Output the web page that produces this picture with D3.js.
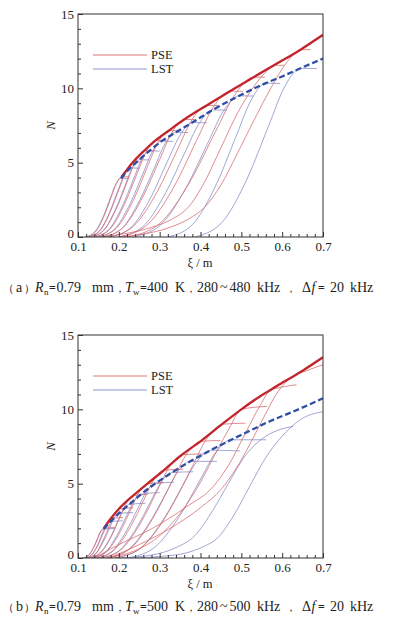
<!DOCTYPE html>
<html>
<head>
<meta charset="utf-8">
<script src="https://cdn.jsdelivr.net/npm/d3@7"></script>
<style>
body { margin: 0; background: #fff; }
svg text { font-family: "Liberation Serif", "Times New Roman", Times, serif; fill: #222; }
</style>
</head>
<body>
<svg id="chart" width="399" height="628"></svg>
<script>
// axis ticks
const xTicks = [0.1, 0.2, 0.3, 0.4, 0.5, 0.6, 0.7];
const xMinorTicks = [0.12, 0.14, 0.16, 0.18, 0.22, 0.24, 0.26, 0.28, 0.32, 0.34, 0.36, 0.38,
    0.42, 0.44, 0.46, 0.48, 0.52, 0.54, 0.56, 0.58, 0.62, 0.64, 0.66, 0.68];
const yTicks = [0, 5, 10, 15];
const yMinorTicks = [1, 2, 3, 4, 6, 7, 8, 9, 11, 12, 13, 14];

// (a) Tw = 400 K, 480 -> 280 kHz
const freqsA = [480, 460, 440, 420, 400, 380, 360, 340, 320, 300, 280];
const pseA = [
    [[0.12,0],[0.142,0.32],[0.164,1.42],[0.181,2.67],[0.194,3.6],[0.207,4.05],[0.225,4.05]],
    [[0.125,0],[0.153,0.4],[0.18,1.77],[0.202,3.33],[0.219,4.49],[0.235,5.05],[0.255,5.05]],
    [[0.13,0],[0.163,0.46],[0.196,2.03],[0.222,3.83],[0.242,5.16],[0.262,5.8],[0.285,5.8]],
    [[0.14,0],[0.178,0.52],[0.215,2.28],[0.245,4.29],[0.268,5.79],[0.29,6.5],[0.315,6.5]],
    [[0.15,0],[0.193,0.57],[0.236,2.5],[0.27,4.72],[0.296,6.36],[0.322,7.15],[0.348,7.15]],
    [[0.16,0],[0.21,0.63],[0.26,2.77],[0.3,5.21],[0.33,7.03],[0.36,7.9],[0.386,7.9]],
    [[0.175,0],[0.235,0.71],[0.295,3.1],[0.343,5.84],[0.379,7.88],[0.415,8.85],[0.443,8.85]],
    [[0.2,0],[0.268,0.78],[0.336,3.43],[0.39,6.47],[0.431,8.72],[0.472,9.8],[0.504,9.8]],
    [[0.22,0],[0.298,0.86],[0.375,3.76],[0.437,7.1],[0.484,9.57],[0.53,10.75],[0.558,10.75]],
    [[0.16,0],[0.22,0.25],[0.28,0.65],[0.33,1.2],[0.37,2.0],[0.41,3.7],[0.45,6.0],[0.49,8.3],[0.53,10.1],[0.56,11.1],[0.58,11.55],[0.605,11.55]],
    [[0.2,0],[0.26,0.2],[0.32,0.6],[0.37,1.2],[0.41,2.0],[0.45,3.5],[0.49,5.6],[0.53,7.8],[0.57,9.9],[0.6,11.3],[0.625,12.2],[0.645,12.6],[0.67,12.6]]
];
const lstA = [
    [[0.118,0],[0.14,0.32],[0.162,1.38],[0.179,2.61],[0.192,3.52],[0.205,3.95],[0.225,3.93]],
    [[0.125,0],[0.151,0.37],[0.177,1.63],[0.197,3.07],[0.213,4.14],[0.228,4.65],[0.25,4.63]],
    [[0.132,0],[0.162,0.42],[0.191,1.82],[0.215,3.43],[0.232,4.63],[0.25,5.2],[0.275,5.18]],
    [[0.14,0],[0.174,0.46],[0.208,2.03],[0.235,3.83],[0.255,5.16],[0.275,5.8],[0.3,5.78]],
    [[0.15,0],[0.189,0.52],[0.228,2.26],[0.259,4.26],[0.282,5.74],[0.305,6.45],[0.333,6.43]],
    [[0.162,0],[0.207,0.56],[0.251,2.47],[0.287,4.65],[0.313,6.27],[0.34,7.05],[0.37,7.03]],
    [[0.178,0],[0.229,0.62],[0.279,2.7],[0.319,5.08],[0.35,6.85],[0.38,7.7],[0.415,7.68]],
    [[0.2,0],[0.258,0.68],[0.315,2.99],[0.361,5.64],[0.396,7.61],[0.43,8.55],[0.465,8.53]],
    [[0.235,0],[0.3,0.76],[0.365,3.33],[0.417,6.27],[0.456,8.46],[0.495,9.5],[0.53,9.48]],
    [[0.32,0],[0.38,0.83],[0.44,3.62],[0.488,6.83],[0.524,9.21],[0.56,10.35],[0.595,10.33]],
    [[0.385,0],[0.45,0.91],[0.515,3.97],[0.567,7.49],[0.606,10.1],[0.645,11.35],[0.685,11.33]]
];
const pseEnvA = [[0.207,4.05],[0.235,5.05],[0.262,5.8],[0.29,6.5],[0.322,7.15],[0.36,7.9],[0.415,8.85],
    [0.472,9.8],[0.53,10.75],[0.58,11.55],[0.645,12.6],[0.7,13.6]];
const lstEnvA = [[0.205,3.95],[0.228,4.65],[0.25,5.2],[0.275,5.8],[0.305,6.45],[0.34,7.05],[0.38,7.7],
    [0.43,8.55],[0.495,9.5],[0.56,10.35],[0.6,10.8],[0.645,11.35],[0.7,12.0]];

// (b) Tw = 500 K, 500 -> 280 kHz
const freqsB = [500, 480, 460, 440, 420, 400, 380, 360, 340, 320, 300, 280];
const pseB = [
    [[0.112,0],[0.125,0.16],[0.138,0.7],[0.148,1.32],[0.155,1.78],[0.163,2.0],[0.19,2.05]],
    [[0.117,0],[0.133,0.21],[0.149,0.93],[0.161,1.75],[0.171,2.36],[0.18,2.65],[0.21,2.72]],
    [[0.122,0],[0.142,0.26],[0.161,1.16],[0.177,2.18],[0.188,2.94],[0.2,3.3],[0.235,3.38]],
    [[0.128,0],[0.155,0.34],[0.182,1.47],[0.203,2.77],[0.219,3.74],[0.235,4.2],[0.27,4.28]],
    [[0.135,0],[0.169,0.4],[0.203,1.75],[0.23,3.3],[0.25,4.45],[0.27,5.0],[0.31,5.08]],
    [[0.145,0],[0.186,0.47],[0.228,2.07],[0.261,3.89],[0.285,5.25],[0.31,5.9],[0.358,5.98]],
    [[0.155,0],[0.205,0.56],[0.255,2.43],[0.295,4.59],[0.325,6.19],[0.355,6.95],[0.407,7.0]],
    [[0.17,0],[0.228,0.63],[0.285,2.75],[0.331,5.18],[0.366,6.99],[0.4,7.85],[0.448,7.9]],
    [[0.19,0],[0.256,0.72],[0.323,3.15],[0.376,5.94],[0.415,8.01],[0.455,9.0],[0.51,9.07]],
    [[0.17,0],[0.24,0.5],[0.3,1.5],[0.35,3.0],[0.4,5.1],[0.44,7.2],[0.47,8.7],[0.5,10.0],[0.563,10.2]],
    [[0.14,0],[0.2,0.9],[0.276,1.9],[0.366,3.45],[0.431,4.8],[0.47,6.3],[0.51,8.4],[0.545,10.2],[0.57,11.25],[0.6,11.5],[0.635,11.65]],
    [[0.175,0],[0.25,0.9],[0.32,1.9],[0.403,3.45],[0.45,4.6],[0.5,6.6],[0.55,9.2],[0.59,11.2],[0.62,12.1],[0.66,12.6],[0.7,13.0]]
];
const lstB = [
    [[0.112,0],[0.125,0.16],[0.138,0.68],[0.148,1.29],[0.155,1.74],[0.163,1.95],[0.19,1.98]],
    [[0.117,0],[0.133,0.2],[0.149,0.86],[0.161,1.62],[0.171,2.18],[0.18,2.45],[0.21,2.5]],
    [[0.122,0],[0.142,0.24],[0.161,1.05],[0.177,1.98],[0.188,2.67],[0.2,3.0],[0.235,3.06]],
    [[0.128,0],[0.152,0.29],[0.177,1.26],[0.196,2.38],[0.21,3.2],[0.225,3.6],[0.265,3.68]],
    [[0.135,0],[0.165,0.34],[0.195,1.51],[0.219,2.84],[0.237,3.83],[0.255,4.3],[0.3,4.4]],
    [[0.145,0],[0.181,0.4],[0.217,1.75],[0.246,3.3],[0.267,4.45],[0.289,5.0],[0.335,5.1]],
    [[0.155,0],[0.199,0.46],[0.243,2.01],[0.278,3.8],[0.304,5.12],[0.33,5.75],[0.382,5.8]],
    [[0.17,0],[0.221,0.52],[0.273,2.28],[0.314,4.29],[0.344,5.79],[0.375,6.5],[0.44,6.5]],
    [[0.19,0],[0.249,0.58],[0.308,2.54],[0.355,4.79],[0.39,6.45],[0.425,7.25],[0.497,7.2]],
    [[0.22,0],[0.284,0.64],[0.348,2.78],[0.399,5.25],[0.437,7.08],[0.475,7.95],[0.561,7.95]],
    [[0.2,0],[0.28,0.2],[0.34,0.7],[0.386,1.5],[0.43,3.2],[0.468,5.0],[0.51,6.9],[0.55,8.0],[0.59,8.6],[0.627,8.85]],
    [[0.236,0],[0.3,0.1],[0.366,0.35],[0.41,0.8],[0.44,1.3],[0.48,2.8],[0.52,4.8],[0.561,6.8],[0.6,8.2],[0.644,9.3],[0.7,9.85]]
];
const pseEnvB = [[0.163,2.0],[0.18,2.65],[0.2,3.3],[0.235,4.2],[0.27,5.0],[0.31,5.9],[0.355,6.95],[0.4,7.85],
    [0.455,9.05],[0.5,10.0],[0.55,10.95],[0.586,11.55],[0.65,12.6],[0.7,13.5]];
const lstEnvB = [[0.163,1.95],[0.18,2.45],[0.2,3.0],[0.225,3.6],[0.255,4.3],[0.289,5.0],[0.33,5.75],[0.375,6.5],
    [0.425,7.25],[0.475,7.95],[0.52,8.55],[0.57,9.2],[0.627,9.85],[0.7,10.74]];

const svg = d3.select('#chart');
const left = 78, right = 323;
const x = d3.scaleLinear().domain([0.1, 0.7]).range([left, right]);

const RED_THIN = '#d6666a', BLUE_THIN = '#8288c6', RED_ENV = '#c3252c', BLUE_ENV = '#2f4ea6';

function drawPanel(cfg) {
    const y = d3.scaleLinear().domain([0, 15]).range([cfg.bottom, cfg.top]);
    const g = svg.append('g');

    g.append('clipPath').attr('id', cfg.id + '-clip')
        .append('rect')
        .attr('x', left).attr('y', cfg.top)
        .attr('width', right - left).attr('height', cfg.bottom - cfg.top);

    const line = d3.line()
        .x(d => x(d[0]))
        .y(d => y(d[1]))
        .curve(d3.curveMonotoneX);

    const plot = g.append('g').attr('clip-path', `url(#${cfg.id}-clip)`);

    plot.selectAll('.lst')
        .data(cfg.lst)
        .enter().append('path')
        .attr('class', 'lst')
        .attr('d', line)
        .attr('fill', 'none')
        .attr('stroke', BLUE_THIN)
        .attr('stroke-width', 0.75);

    plot.selectAll('.pse')
        .data(cfg.pse)
        .enter().append('path')
        .attr('class', 'pse')
        .attr('d', line)
        .attr('fill', 'none')
        .attr('stroke', RED_THIN)
        .attr('stroke-width', 0.75);

    plot.append('path')
        .attr('d', line(cfg.pseEnv))
        .attr('fill', 'none')
        .attr('stroke', RED_ENV)
        .attr('stroke-width', 2.3);

    plot.append('path')
        .attr('d', line(cfg.lstEnv))
        .attr('fill', 'none')
        .attr('stroke', BLUE_ENV)
        .attr('stroke-width', 2.3)
        .attr('stroke-dasharray', '6,3');

    // axes, ticks pointing inward
    const fmt = d3.format('.1f');
    g.append('g')
        .attr('transform', `translate(0,${cfg.bottom})`)
        .call(d3.axisBottom(x).tickValues(xMinorTicks).tickSize(-3).tickFormat(''))
        .call(a => a.select('.domain').remove());
    g.append('g')
        .attr('transform', `translate(0,${cfg.bottom})`)
        .call(d3.axisBottom(x).tickValues(xTicks).tickSize(-5).tickPadding(5).tickFormat(fmt))
        .call(a => a.select('.domain').remove())
        .attr('font-family', null).attr('font-size', 13).attr('color', '#333');

    g.append('g')
        .attr('transform', `translate(${left},0)`)
        .call(d3.axisLeft(y).tickValues(yMinorTicks).tickSize(-3).tickFormat(''))
        .call(a => a.select('.domain').remove());
    g.append('g')
        .attr('transform', `translate(${left},0)`)
        .call(d3.axisLeft(y).tickValues(yTicks).tickSize(-5).tickPadding(4))
        .call(a => a.select('.domain').remove())
        .call(a => a.selectAll('.tick text').filter(d => d === 0).attr('dy', '0em'))
        .attr('font-family', null).attr('font-size', 13).attr('color', '#333');

    g.selectAll('.tick line').attr('stroke', '#333');

    g.append('rect')
        .attr('x', left).attr('y', cfg.top)
        .attr('width', right - left).attr('height', cfg.bottom - cfg.top)
        .attr('fill', 'none')
        .attr('stroke', '#333')
        .attr('stroke-width', 1);

    // legend
    const ly = cfg.top + 41;
    g.append('line').attr('x1', 93).attr('x2', 147).attr('y1', ly).attr('y2', ly)
        .attr('stroke', RED_THIN).attr('stroke-width', 0.9);
    g.append('line').attr('x1', 93).attr('x2', 147).attr('y1', ly + 14).attr('y2', ly + 14)
        .attr('stroke', BLUE_THIN).attr('stroke-width', 0.9);
    g.append('text').attr('x', 151).attr('y', ly + 4.3).attr('font-size', 12.5).text('PSE');
    g.append('text').attr('x', 151).attr('y', ly + 18.3).attr('font-size', 12.5).text('LST');

    // axis titles
    g.append('text')
        .attr('transform', `translate(55,${(cfg.top + cfg.bottom) / 2}) rotate(-90)`)
        .attr('text-anchor', 'middle')
        .attr('font-size', 13)
        .attr('font-style', 'italic')
        .text('N');
    g.append('text')
        .attr('x', 200).attr('y', cfg.bottom + 29.5)
        .attr('text-anchor', 'middle')
        .attr('font-size', 12.5)
        .text('ξ / m');

    // caption: pieces placed one by one so the spacing follows the original
    const cy = cfg.captionY;
    const cap = g.append('text').attr('y', cy).attr('font-size', 14);
    const parts = [
        ['（', 3, 'p'], [cfg.tag, 16, ''], ['）', 23.5, 'p'],
        ['R', 35, 'i'], ['n', 44, 's'], ['=', 49, 'b'], ['0.79', 56.5, ''], ['mm', 92, ''], ['，', 114.5, 'c'],
        ['T', 125, 'i'], ['w', 133, 's'], ['=', 140, 'b'], [cfg.tw, 147, ''], ['K', 175, ''], ['，', 185.5, 'c'],
        [cfg.range[0], 197, ''], ['~', 220, ''], [cfg.range[1], 229.5, ''], ['kHz', 257, ''], ['，', 286, 'c'],
        ['Δ', 302, ''], ['f', 311.5, 'i'], ['=', 318, 'b'], ['20', 330, ''], ['kHz', 350, '']
    ];
    parts.forEach(p => {
        const t = cap.append('tspan').attr('x', p[1]).attr('y', p[2] === 's' ? cy + 3 : cy).text(p[0]);
        if (p[2] === 'i') t.attr('font-style', 'italic');
        if (p[2] === 's') t.attr('font-size', 9);
        if (p[2] === 'b') t.attr('font-weight', 'bold').attr('font-size', 12);
        if (p[2] === 'p') t.attr('font-size', 11);
        if (p[2] === 'c') t.attr('font-size', 10);
    });
}

drawPanel({ id: 'a', tag: 'a', top: 14, bottom: 237, captionY: 292, pse: pseA, lst: lstA,
    pseEnv: pseEnvA, lstEnv: lstEnvA, tw: '400', range: ['280', '480'] });
drawPanel({ id: 'b', tag: 'b', top: 335, bottom: 558, captionY: 611, pse: pseB, lst: lstB,
    pseEnv: pseEnvB, lstEnv: lstEnvB, tw: '500', range: ['280', '500'] });
</script>
</body>
</html>
